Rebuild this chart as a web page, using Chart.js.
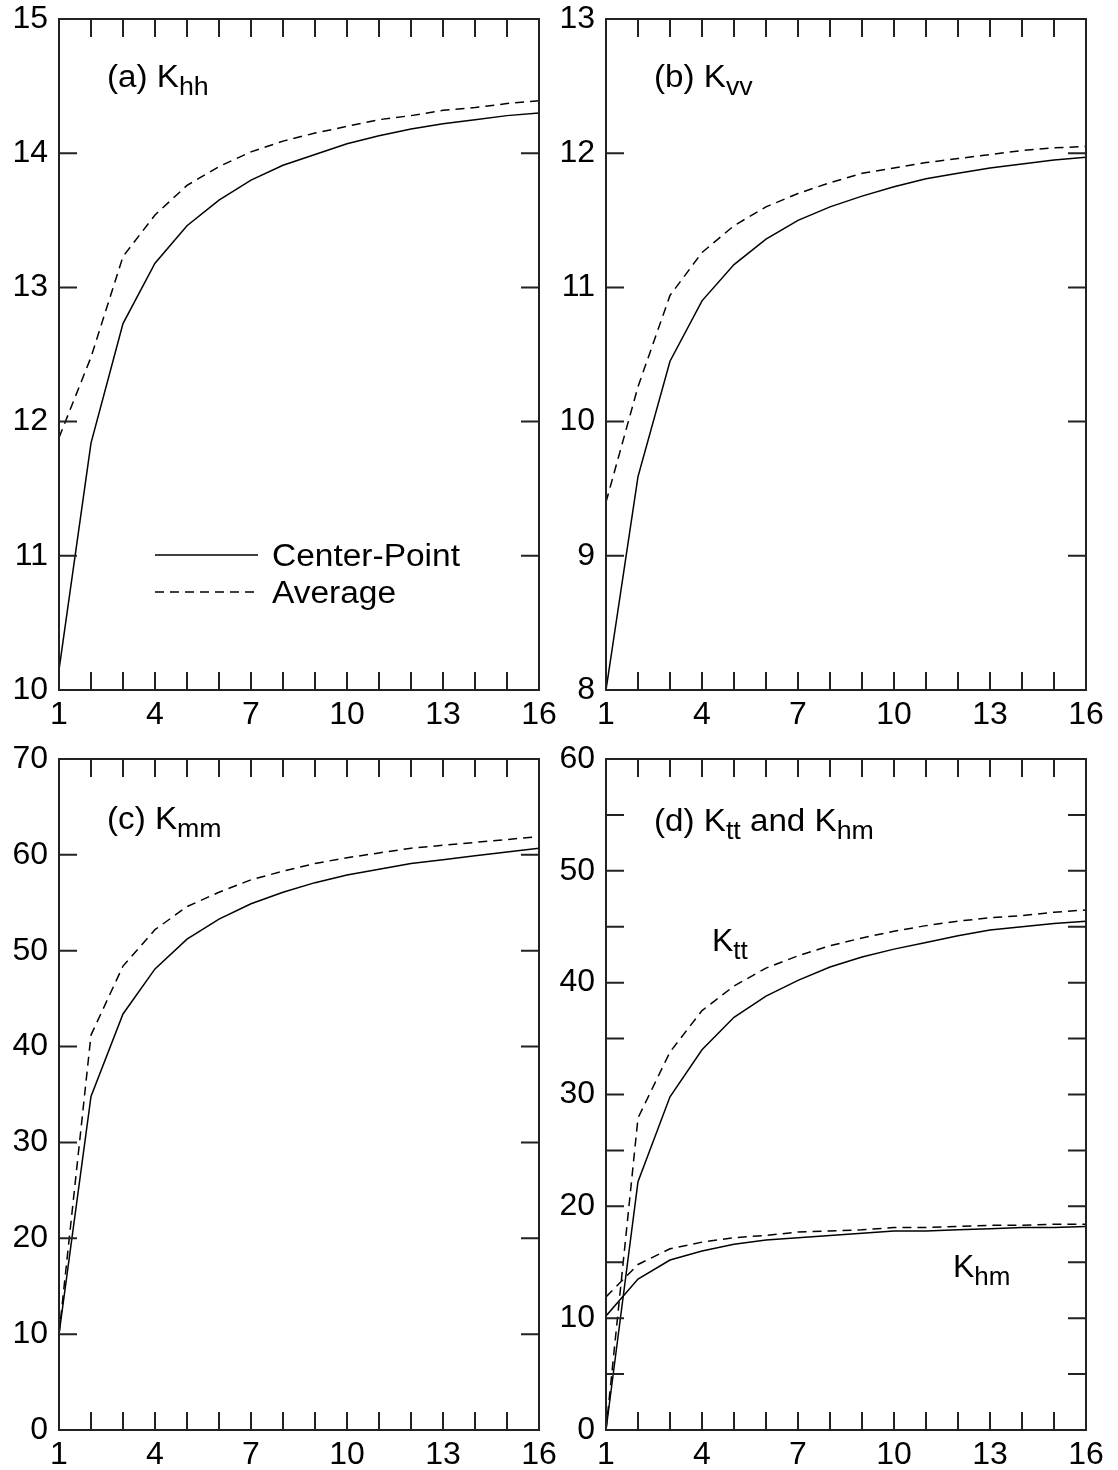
<!DOCTYPE html>
<html>
<head>
<meta charset="utf-8">
<script src="https://cdn.jsdelivr.net/npm/chart.js@4.4.1/dist/chart.umd.min.js"></script>
<style>
  html, body { margin: 0; padding: 0; background: #fff; overflow: hidden; }
  body { width: 1118px; height: 1470px; position: relative; }
  canvas { position: absolute; }
</style>
</head>
<body>
<canvas id="chartA" width="560" height="745" style="left:0;top:0"></canvas>
<canvas id="chartB" width="560" height="745" style="left:547px;top:0"></canvas>
<canvas id="chartC" width="560" height="730" style="left:0;top:740px"></canvas>
<canvas id="chartD" width="560" height="730" style="left:547px;top:740px"></canvas>
<script>
const FONT = '"Liberation Sans", Arial, Helvetica, sans-serif';

// x values and the labelled x ticks
const iterations = [1, 2, 3, 4, 5, 6, 7, 8, 9, 10, 11, 12, 13, 14, 15, 16];
const xTickLabels = [1, 4, 7, 10, 13, 16];

// (a) K_hh
const khhCenter = [10.15, 11.84, 12.73, 13.18, 13.46, 13.65, 13.80, 13.91, 13.99, 14.07, 14.13, 14.18, 14.22, 14.25, 14.28, 14.30];
const khhAverage = [11.88, 12.48, 13.23, 13.54, 13.76, 13.90, 14.01, 14.09, 14.15, 14.20, 14.25, 14.28, 14.32, 14.34, 14.37, 14.39];
const khhTicks = [10, 11, 12, 13, 14, 15];
const khhMarks = [11, 12, 13, 14];

// (b) K_vv
const kvvCenter = [8.0, 9.59, 10.45, 10.90, 11.17, 11.36, 11.50, 11.60, 11.68, 11.75, 11.81, 11.85, 11.89, 11.92, 11.95, 11.97];
const kvvAverage = [9.40, 10.26, 10.94, 11.26, 11.46, 11.60, 11.70, 11.78, 11.85, 11.89, 11.93, 11.96, 11.99, 12.02, 12.04, 12.05];
const kvvTicks = [8, 9, 10, 11, 12, 13];
const kvvMarks = [9, 10, 11, 12];

// (c) K_mm
const kmmCenter = [10.0, 34.8, 43.4, 48.1, 51.2, 53.3, 54.9, 56.1, 57.1, 57.9, 58.5, 59.1, 59.5, 59.9, 60.3, 60.7];
const kmmAverage = [10.0, 41.2, 48.4, 52.2, 54.6, 56.1, 57.4, 58.3, 59.1, 59.7, 60.2, 60.7, 61.0, 61.3, 61.6, 61.9];
const kmmTicks = [0, 10, 20, 30, 40, 50, 60, 70];
const kmmMarks = [10, 20, 30, 40, 50, 60];

// (d) K_tt and K_hm
const kttCenter = [0, 22.2, 29.8, 34.0, 36.9, 38.8, 40.2, 41.4, 42.3, 43.0, 43.6, 44.2, 44.7, 45.0, 45.3, 45.5];
const kttAverage = [0, 27.9, 33.8, 37.5, 39.7, 41.3, 42.4, 43.3, 44.0, 44.6, 45.1, 45.5, 45.8, 46.0, 46.3, 46.5];
const khmCenter = [10.2, 13.5, 15.2, 16.0, 16.6, 17.0, 17.2, 17.4, 17.6, 17.8, 17.8, 17.9, 18.0, 18.1, 18.1, 18.2];
const khmAverage = [11.9, 14.8, 16.2, 16.8, 17.2, 17.4, 17.7, 17.8, 17.9, 18.1, 18.1, 18.2, 18.3, 18.3, 18.4, 18.4];
const kdTicks = [0, 10, 20, 30, 40, 50, 60];
const kdMarks = [5, 10, 15, 20, 25, 30, 35, 40, 45, 50, 55];

const TICK = 18;

Chart.defaults.font.family = FONT;
Chart.defaults.color = '#000';

// box around the plot with inward tick marks on all four sides
const frameTicks = {
  id: 'frameTicks',
  afterDatasetsDraw(chart, args, opts) {
    const { ctx, chartArea: a, scales: { x, y } } = chart;
    ctx.save();
    ctx.strokeStyle = '#222';
    ctx.lineWidth = 2;
    ctx.strokeRect(a.left, a.top, a.width, a.height);
    ctx.beginPath();
    iterations.forEach(v => {
      const px = x.getPixelForValue(v);
      ctx.moveTo(px, a.bottom); ctx.lineTo(px, a.bottom - TICK);
      ctx.moveTo(px, a.top); ctx.lineTo(px, a.top + TICK);
    });
    opts.yMarks.forEach(v => {
      const py = y.getPixelForValue(v);
      ctx.moveTo(a.left, py); ctx.lineTo(a.left + TICK, py);
      ctx.moveTo(a.right, py); ctx.lineTo(a.right - TICK, py);
    });
    ctx.stroke();
    ctx.restore();
  }
};

function drawRich(ctx, x, y, n) {
  ctx.save();
  ctx.fillStyle = '#000';
  ctx.textBaseline = 'alphabetic';
  ctx.translate(x, y);
  ctx.scale(n.stretch || 1, 1);
  let cx = 0;
  n.parts.forEach(([text, sub]) => {
    ctx.font = (sub ? n.subSize : n.size) + 'px ' + FONT;
    ctx.fillText(text, cx, sub ? n.drop : 0);
    cx += ctx.measureText(text).width;
  });
  ctx.restore();
}

// panel titles, curve names and the legend
const notes = {
  id: 'notes',
  afterDraw(chart, args, opts) {
    const { ctx, chartArea: a } = chart;
    (opts.items || []).forEach(n => drawRich(ctx, a.left + n.dx, a.top + n.dy, n));
    const lg = opts.legend;
    if (!lg) return;
    chart.data.datasets.forEach((ds, i) => {
      const y = a.top + lg.dy + i * lg.gap;
      ctx.save();
      ctx.strokeStyle = ds.borderColor;
      ctx.lineWidth = ds.borderWidth;
      ctx.setLineDash(ds.borderDash);
      ctx.beginPath();
      ctx.moveTo(a.left + lg.dx, y);
      ctx.lineTo(a.left + lg.dx + lg.len, y);
      ctx.stroke();
      ctx.restore();
      drawRich(ctx, a.left + lg.textDx, y + 11, { parts: [[ds.label, false]], size: 31, stretch: 1.08 });
    });
  }
};

function title(parts, dy) {
  return { parts, dx: 48, dy, size: 31, subSize: 25, drop: 8, stretch: 1.07 };
}

function makeChart(id, series, yTicks, yMarks, items, xAxisHeight, legend) {
  return new Chart(document.getElementById(id), {
    type: 'line',
    data: {
      datasets: series.map(s => ({
        label: s.label,
        data: iterations.map((v, i) => ({ x: v, y: s.values[i] })),
        borderColor: '#000',
        borderWidth: 1.5,
        borderDash: s.dashed ? [9, 6] : [],
        pointRadius: 0,
        tension: 0,
        fill: false
      }))
    },
    options: {
      responsive: false,
      animation: false,
      events: [],
      layout: { padding: { top: 19, right: 21, left: 0, bottom: 0 } },
      plugins: {
        legend: { display: false },
        tooltip: { enabled: false },
        frameTicks: { yMarks },
        notes: { items, legend }
      },
      scales: {
        x: {
          type: 'linear',
          min: 1,
          max: 16,
          grid: { display: false, drawTicks: false },
          border: { display: false },
          ticks: { padding: 9, autoSkip: false, maxRotation: 0, font: { size: 32, lineHeight: 1 } },
          afterBuildTicks: s => { s.ticks = xTickLabels.map(v => ({ value: v })); },
          afterFit: s => { s.height = xAxisHeight; s.paddingLeft = 0; s.paddingRight = 0; }
        },
        y: {
          min: yTicks[0],
          max: yTicks[yTicks.length - 1],
          grid: { display: false, drawTicks: false },
          border: { display: false },
          ticks: { padding: 11, autoSkip: false, font: { size: 32, lineHeight: 1 } },
          afterBuildTicks: s => { s.ticks = yTicks.map(v => ({ value: v })); },
          afterFit: s => { s.width = 59; s.paddingTop = 0; s.paddingBottom = 0; }
        }
      }
    },
    plugins: [frameTicks, notes]
  });
}

makeChart('chartA', [
  { label: 'Center-Point', values: khhCenter },
  { label: 'Average', values: khhAverage, dashed: true }
], khhTicks, khhMarks, [
  title([['(a) K', false], ['hh', true]], 68)
], 55, { dx: 96, len: 103, dy: 536, gap: 37, textDx: 213 });

makeChart('chartB', [
  { label: 'Center-Point', values: kvvCenter },
  { label: 'Average', values: kvvAverage, dashed: true }
], kvvTicks, kvvMarks, [
  title([['(b) K', false], ['vv', true]], 68)
], 55);

makeChart('chartC', [
  { label: 'Center-Point', values: kmmCenter },
  { label: 'Average', values: kmmAverage, dashed: true }
], kmmTicks, kmmMarks, [
  title([['(c) K', false], ['mm', true]], 70)
], 40);

makeChart('chartD', [
  { label: 'K_tt Center-Point', values: kttCenter },
  { label: 'K_tt Average', values: kttAverage, dashed: true },
  { label: 'K_hm Center-Point', values: khmCenter },
  { label: 'K_hm Average', values: khmAverage, dashed: true }
], kdTicks, kdMarks, [
  title([['(d) K', false], ['tt', true], [' and K', false], ['hm', true]], 72),
  { parts: [['K', false], ['tt', true]], dx: 106, dy: 192, size: 32, subSize: 26, drop: 8 },
  { parts: [['K', false], ['hm', true]], dx: 347, dy: 518, size: 32, subSize: 26, drop: 8 }
], 40);
</script>
</body>
</html>
